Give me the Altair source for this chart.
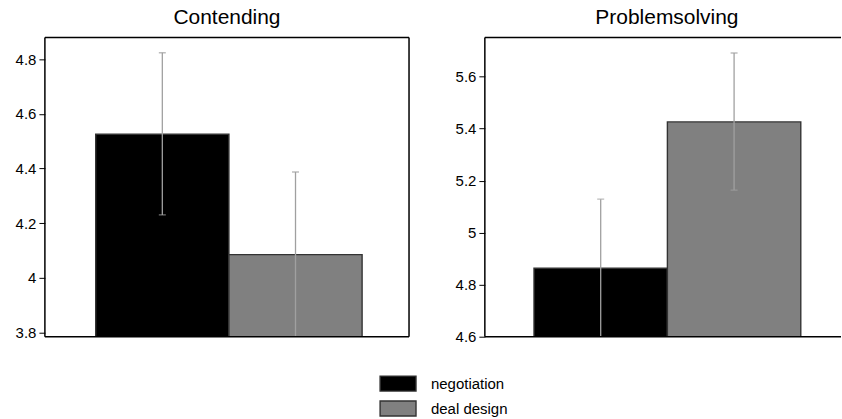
import altair as alt
import pandas as pd

# Group means with their confidence intervals, per outcome measure
measures = ["Contending", "Contending", "Problemsolving", "Problemsolving"]
conditions = ["negotiation", "deal design", "negotiation", "deal design"]
means = [4.525, 4.085, 4.863, 5.426]
ci_low = [4.230, 3.784, 4.598, 5.164]
ci_high = [4.823, 4.387, 5.129, 5.691]

# Axis settings for each panel
y_domains = {"Contending": [3.785, 4.879], "Problemsolving": [4.6, 5.751]}
y_ticks = {"Contending": [3.8, 4.0, 4.2, 4.4, 4.6, 4.8],
           "Problemsolving": [4.6, 4.8, 5.0, 5.2, 5.4, 5.6]}

cond_order = ["negotiation", "deal design"]
fills = ["#000000", "#808080"]

df = pd.DataFrame({
    "measure": measures,
    "condition": conditions,
    "mean": means,
    "lo": ci_low,
    "hi": ci_high,
})

FONT = "Liberation Sans"
ERR = "#a0a0a0"


def frame(right_edge=True):
    """Black box around the plot area, drawn as rules."""
    one = alt.Data(values=[{}])
    sides = [
        alt.Chart(one).mark_rule(color="#000", strokeWidth=1.5).encode(
            x=alt.value(0), x2=alt.value("width"), y=alt.value(0)),
        alt.Chart(one).mark_rule(color="#000", strokeWidth=1.5).encode(
            x=alt.value(0), x2=alt.value("width"), y=alt.value("height")),
        alt.Chart(one).mark_rule(color="#000", strokeWidth=1.5).encode(
            x=alt.value(0), y=alt.value(0), y2=alt.value("height")),
    ]
    if right_edge:
        sides.append(alt.Chart(one).mark_rule(color="#000", strokeWidth=1.5).encode(
            x=alt.value("width"), y=alt.value(0), y2=alt.value("height")))
    return sides


def panel(name, width, pad_outer, align, title_dx, right_edge):
    sub = df[df["measure"] == name]
    base = alt.Chart(sub).encode(
        x=alt.X("condition:N", sort=cond_order, axis=None,
                scale=alt.Scale(paddingInner=0, paddingOuter=pad_outer, align=align)),
    )
    y_scale = alt.Scale(domain=y_domains[name], nice=False, zero=False)
    bars = base.mark_bar(stroke="#333333", strokeWidth=1.4, clip=True).encode(
        y=alt.Y("mean:Q", scale=y_scale, title=None,
                axis=alt.Axis(values=y_ticks[name], format=".1~f", grid=False,
                              domain=False, tickColor="#000000", tickSize=6,
                              tickWidth=1, labelFont=FONT, labelFontSize=15,
                              labelColor="#000000", labelPadding=3,
                              minExtent=40, maxExtent=40)),
        y2=alt.datum(y_domains[name][0]),
        color=alt.Color("condition:N", sort=cond_order,
                        scale=alt.Scale(domain=cond_order, range=fills),
                        legend=alt.Legend(
                            title=None, orient="none", legendX=345, legendY=338,
                            padding=0,
                            symbolType="M-2.25,-0.94H2.25V0.94H-2.25Z",
                            symbolSize=256, symbolStrokeColor="#333333",
                            symbolStrokeWidth=1.4, symbolOpacity=1,
                            labelFont=FONT, labelFontSize=15,
                            labelColor="#000000", labelOffset=24,
                            rowPadding=3)),
    )
    rule = base.mark_rule(color=ERR, strokeWidth=1.3, clip=True).encode(
        y=alt.Y("lo:Q", scale=y_scale), y2="hi:Q")
    cap_hi = base.mark_tick(color=ERR, size=7, thickness=1.3, clip=True).encode(
        y=alt.Y("hi:Q", scale=y_scale))
    cap_lo = base.mark_tick(color=ERR, size=7, thickness=1.3, clip=True).encode(
        y=alt.Y("lo:Q", scale=y_scale))
    return alt.layer(bars, rule, cap_hi, cap_lo, *frame(right_edge)).properties(
        width=width, height=300,
        title=alt.TitleParams(name, font=FONT, fontSize=21, fontWeight="normal",
                              color="#000000", anchor="middle", offset=9,
                              dx=title_dx),
    )


left = panel("Contending", 365, 0.367, 0.52, 0, True)
right = panel("Problemsolving", 357, 0.335, 0.55, 4, False)

chart = alt.hconcat(left, right, spacing=35).resolve_scale(
    y="independent", x="independent"
).configure(
    padding={"left": 5, "top": 6, "right": 0, "bottom": 0},
    background="#ffffff",
).configure_view(stroke=None)

chart.save("out.html", embed_options={"renderer": "svg", "actions": False})
